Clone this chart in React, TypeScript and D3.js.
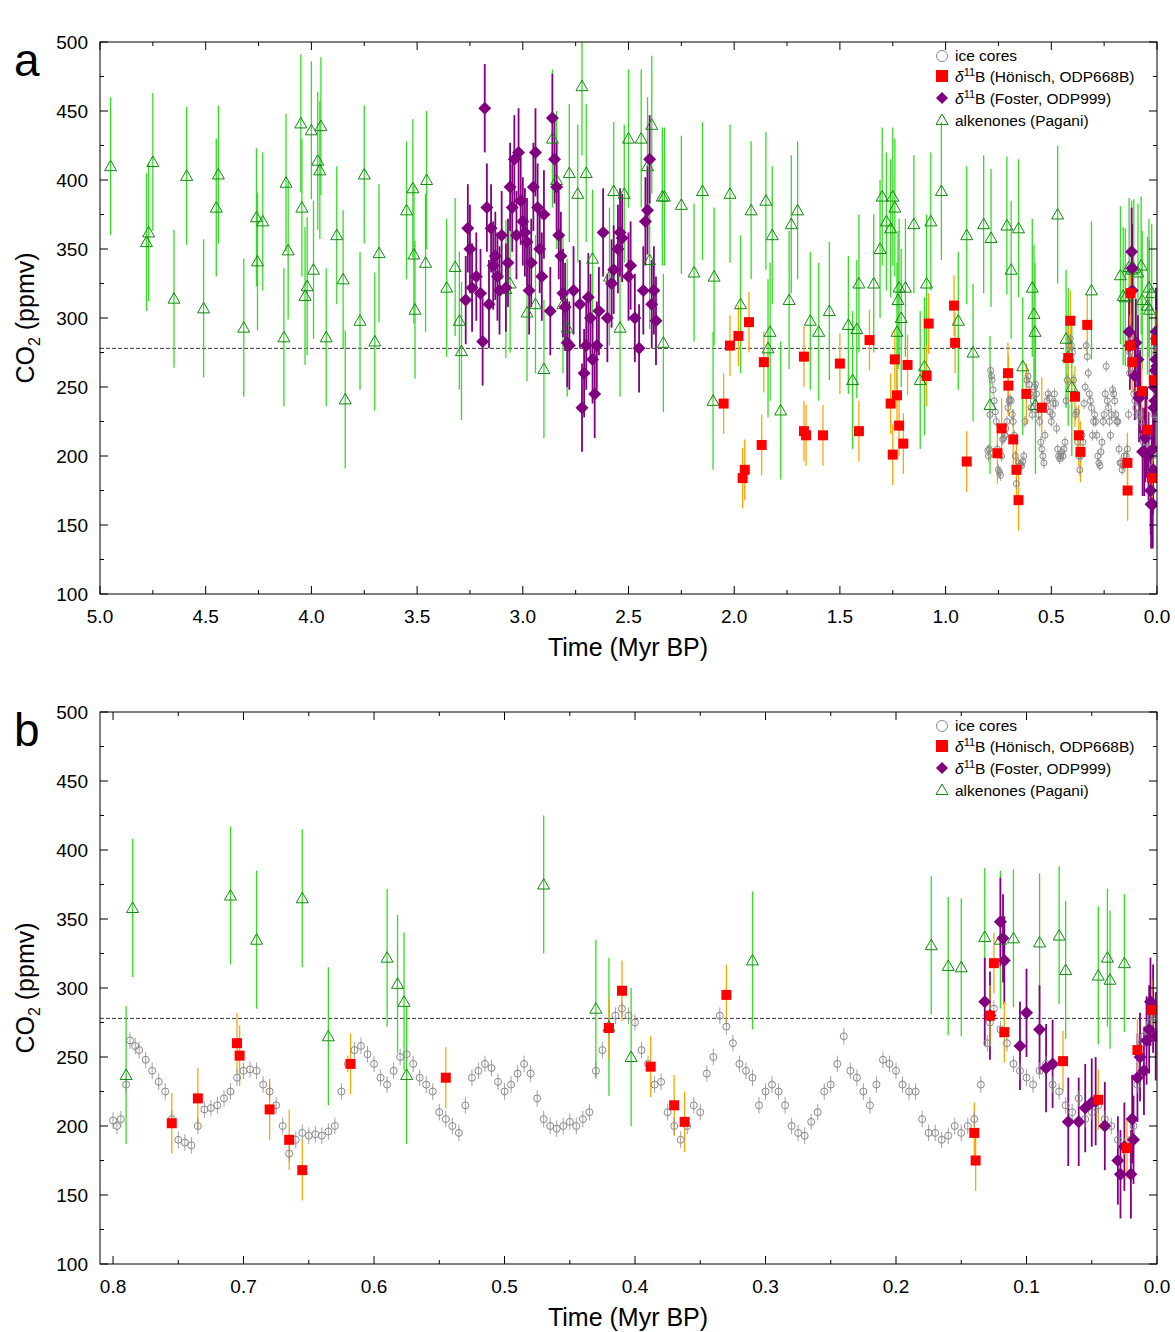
import React from 'react';
import * as d3 from 'd3';

// [time Myr BP, CO2 ppmv]
const iceCores: [number, number][] = [
  [0.8, 204], [0.797, 200], [0.794, 205], [0.79, 230], [0.787, 262], [0.783, 258], [0.78, 255], [0.775, 248], [0.77, 240],
  [0.765, 232], [0.76, 225], [0.755, 205], [0.75, 190], [0.745, 188], [0.74, 186], [0.735, 200], [0.73, 212], [0.725, 213],
  [0.72, 215], [0.715, 220], [0.71, 225], [0.705, 235], [0.7, 240], [0.695, 241], [0.69, 240], [0.685, 230], [0.68, 225],
  [0.675, 215], [0.67, 200], [0.665, 180], [0.66, 190], [0.655, 195], [0.65, 193], [0.645, 194], [0.64, 193], [0.635, 196],
  [0.63, 200], [0.625, 225], [0.62, 245], [0.615, 255], [0.61, 258], [0.605, 252], [0.6, 245], [0.595, 235], [0.59, 230],
  [0.585, 240], [0.58, 250], [0.575, 252], [0.57, 245], [0.565, 235], [0.56, 230], [0.555, 225], [0.55, 210], [0.545, 205],
  [0.54, 200], [0.535, 195], [0.53, 215], [0.525, 235], [0.52, 240], [0.515, 245], [0.51, 242], [0.505, 232], [0.5, 225],
  [0.495, 230], [0.49, 238], [0.485, 245], [0.48, 238], [0.475, 220], [0.47, 205], [0.465, 200], [0.46, 198], [0.455, 200],
  [0.45, 203], [0.445, 200], [0.44, 205], [0.435, 210], [0.43, 240], [0.425, 255], [0.42, 272], [0.415, 280], [0.41, 285],
  [0.405, 280], [0.4, 275], [0.395, 255], [0.39, 245], [0.385, 230], [0.38, 232], [0.375, 210], [0.37, 200], [0.365, 190],
  [0.36, 200], [0.355, 215], [0.35, 210], [0.345, 238], [0.34, 250], [0.335, 280], [0.33, 272], [0.325, 260], [0.32, 245],
  [0.315, 240], [0.31, 235], [0.305, 215], [0.3, 225], [0.295, 230], [0.29, 225], [0.285, 215], [0.28, 200], [0.275, 195],
  [0.27, 193], [0.265, 203], [0.26, 210], [0.255, 225], [0.25, 230], [0.245, 245], [0.24, 265], [0.235, 240], [0.23, 235],
  [0.225, 225], [0.22, 215], [0.215, 230], [0.21, 248], [0.205, 245], [0.2, 240], [0.195, 230], [0.19, 225], [0.185, 225],
  [0.18, 205], [0.175, 195], [0.17, 195], [0.165, 190], [0.16, 193], [0.155, 200], [0.15, 195], [0.145, 200], [0.14, 205],
  [0.135, 230], [0.13, 260], [0.128, 275], [0.125, 285], [0.12, 270], [0.115, 260], [0.11, 245], [0.105, 240], [0.1, 235],
  [0.095, 230], [0.09, 240], [0.085, 245], [0.08, 230], [0.075, 225], [0.07, 215], [0.065, 210], [0.06, 220], [0.055, 205],
  [0.05, 210], [0.045, 215], [0.04, 205], [0.035, 200], [0.03, 190], [0.025, 185], [0.02, 190], [0.018, 200], [0.015, 230],
  [0.012, 260], [0.01, 265], [0.008, 270], [0.005, 275], [0.002, 280],
];

const honisch: [number, number][] = [
  [2.05, 238], [2.02, 280], [1.98, 287], [1.96, 184], [1.95, 190], [1.93, 297], [1.87, 208], [1.86, 268], [1.67, 272],
  [1.67, 218], [1.66, 215], [1.58, 215], [1.5, 267], [1.41, 218], [1.36, 284], [1.26, 238], [1.25, 201], [1.24, 270],
  [1.23, 244], [1.22, 222], [1.2, 209], [1.18, 266], [1.09, 258], [1.08, 296], [0.96, 309], [0.955, 282], [0.9, 196],
  [0.755, 202], [0.735, 220], [0.705, 260], [0.703, 251], [0.68, 212], [0.665, 190], [0.655, 168], [0.618, 245], [0.545, 235],
  [0.42, 271], [0.41, 298], [0.388, 243], [0.37, 215], [0.362, 203], [0.33, 295], [0.14, 195], [0.139, 175], [0.128, 280],
  [0.125, 318], [0.117, 268], [0.072, 247], [0.045, 219], [0.023, 184], [0.015, 255], [0.004, 284],
];

const foster: [number, number][] = [
  [3.27, 313], [3.26, 365], [3.25, 350], [3.24, 322], [3.22, 330], [3.2, 318], [3.19, 283], [3.18, 452], [3.17, 380],
  [3.16, 310], [3.15, 365], [3.14, 338], [3.13, 345], [3.12, 330], [3.11, 320], [3.1, 360], [3.08, 322], [3.07, 340],
  [3.06, 395], [3.05, 380], [3.04, 415], [3.03, 360], [3.02, 420], [3.01, 385], [3.0, 370], [2.99, 362], [2.98, 355],
  [2.97, 320], [2.96, 340], [2.95, 395], [2.94, 420], [2.93, 380], [2.92, 350], [2.91, 330], [2.9, 375], [2.87, 305],
  [2.86, 445], [2.85, 415], [2.84, 395], [2.83, 360], [2.82, 345], [2.81, 318], [2.8, 308], [2.79, 282], [2.78, 280],
  [2.76, 320], [2.73, 310], [2.72, 235], [2.71, 260], [2.7, 280], [2.69, 315], [2.68, 300], [2.67, 270], [2.66, 245],
  [2.65, 280], [2.64, 305], [2.62, 362], [2.6, 300], [2.58, 325], [2.57, 335], [2.55, 350], [2.54, 362], [2.53, 358],
  [2.5, 330], [2.49, 338], [2.47, 300], [2.45, 278], [2.43, 320], [2.42, 370], [2.41, 378], [2.4, 415], [2.39, 310],
  [2.38, 320], [2.37, 298],
  [0.132, 290], [0.128, 280], [0.12, 348], [0.118, 336], [0.117, 320], [0.105, 258], [0.1, 282], [0.09, 270], [0.085, 242],
  [0.08, 245], [0.068, 203], [0.06, 203], [0.055, 213], [0.05, 217], [0.047, 218], [0.04, 200], [0.03, 175], [0.028, 165],
  [0.025, 185], [0.02, 165], [0.019, 205], [0.018, 190], [0.015, 235], [0.013, 250], [0.01, 240], [0.008, 262],
  [0.006, 270], [0.005, 290], [0.003, 285], [0.001, 265],
];

const alkenones: [number, number][] = [
  [4.95, 410], [4.78, 355], [4.77, 362], [4.75, 413], [4.65, 314], [4.59, 403], [4.51, 307], [4.45, 380], [4.44, 404],
  [4.32, 293], [4.26, 373], [4.255, 341], [4.23, 370], [4.13, 286], [4.12, 398], [4.11, 349], [4.05, 441], [4.045, 380],
  [4.03, 316], [4.02, 323], [4.0, 436], [3.99, 335], [3.97, 414], [3.96, 407], [3.955, 439], [3.93, 286], [3.88, 360],
  [3.85, 328], [3.84, 241], [3.77, 298], [3.75, 404], [3.7, 283], [3.68, 347], [3.55, 378], [3.52, 394], [3.515, 346],
  [3.51, 306], [3.46, 340], [3.455, 400], [3.36, 322], [3.32, 337], [3.3, 298], [3.29, 276], [3.08, 321], [3.06, 325],
  [2.98, 304], [2.94, 310], [2.9, 263], [2.86, 430], [2.84, 400], [2.81, 310], [2.79, 293], [2.78, 405], [2.74, 390],
  [2.72, 468], [2.7, 405], [2.67, 343], [2.59, 330], [2.57, 392], [2.54, 293], [2.52, 390], [2.5, 430], [2.44, 430],
  [2.41, 410], [2.4, 342], [2.39, 440], [2.34, 388], [2.335, 282], [2.33, 388], [2.25, 382], [2.19, 333], [2.15, 392],
  [2.1, 240], [2.095, 330], [2.02, 390], [1.97, 310], [1.92, 378], [1.85, 385], [1.84, 278], [1.83, 290], [1.82, 360],
  [1.78, 233], [1.74, 313], [1.73, 368], [1.7, 378], [1.64, 298], [1.6, 290], [1.55, 305], [1.46, 295], [1.44, 255],
  [1.42, 292], [1.41, 325], [1.34, 325], [1.31, 350], [1.3, 388], [1.28, 370], [1.26, 365], [1.25, 388], [1.24, 380],
  [1.23, 290], [1.225, 313], [1.22, 322], [1.21, 300], [1.19, 322], [1.15, 368], [1.12, 255], [1.1, 265], [1.09, 325],
  [1.07, 370], [1.02, 392], [0.94, 298], [0.9, 360], [0.87, 275], [0.82, 368],
  [0.79, 237], [0.785, 358], [0.71, 367], [0.69, 335], [0.655, 365], [0.635, 265], [0.59, 322], [0.582, 303], [0.577, 290],
  [0.575, 237], [0.47, 375], [0.43, 285], [0.42, 272], [0.403, 250], [0.31, 320], [0.173, 331], [0.16, 316], [0.15, 315],
  [0.132, 337], [0.12, 335], [0.11, 336], [0.09, 333], [0.075, 338], [0.07, 313], [0.045, 309], [0.038, 322], [0.036, 306],
  [0.025, 318],
];

const preindustrial = 278;
const yTicks = [100, 150, 200, 250, 300, 350, 400, 450, 500];
const xTicksA = [5.0, 4.5, 4.0, 3.5, 3.0, 2.5, 2.0, 1.5, 1.0, 0.5, 0.0];
const xTicksB = [0.8, 0.7, 0.6, 0.5, 0.4, 0.3, 0.2, 0.1, 0.0];

const FONT = '"Liberation Sans", Arial, sans-serif';
const GREEN = '#33dd22';
const RED = '#ff0000';
const PURPLE = '#800080';
const ORANGE = '#ffa500';
const GRAY = '#888';

interface PanelProps {
  top: number;
  letter: string;
  domain: [number, number];
  xTicks: number[];
  xFmt: (d: number) => string;
  ice: { r: number; err: number };
}

const Panel: React.FC<PanelProps> = ({ top, letter, domain, xTicks, xFmt, ice }) => {
  const left = 100, right = 1157, h = 552;
  const x = d3.scaleLinear().domain(domain).range([left, right]);
  const y = d3.scaleLinear().domain([100, 500]).range([top + h, top]);
  const inside = (d: [number, number]) => d[0] <= domain[0];
  const clipId = `clip-${letter}`;
  const minorY = d3.range(100, 501, 25);
  const step = xTicks[0] - xTicks[1];
  const minorX = d3.range(0, domain[0] + 1e-9, step / 2);

  const bar = (d: [number, number], err: number, color: string, key: string, w = 1.3) => (
    <line key={key} x1={x(d[0])} x2={x(d[0])} y1={y(d[1] - err)} y2={y(d[1] + err)} stroke={color} strokeWidth={w} />
  );
  const tri = (cx: number, cy: number, s = 6) => `M${cx},${cy - s}L${cx + s},${cy + s * 0.75}L${cx - s},${cy + s * 0.75}Z`;
  const dia = (cx: number, cy: number, s = 6.5) => `M${cx},${cy - s}L${cx + s},${cy}L${cx},${cy + s}L${cx - s},${cy}Z`;

  const lx = 942, ly = top + 14;
  return (
    <g fontFamily={FONT}>
      <defs>
        <clipPath id={clipId}><rect x={left} y={top} width={right - left} height={h} /></clipPath>
      </defs>
      <text x={14} y={top + 34} fontSize={46}>{letter}</text>
      <g clipPath={`url(#${clipId})`}>
        <line x1={left} x2={right} y1={y(preindustrial)} y2={y(preindustrial)} stroke="#000" strokeDasharray="4,2" strokeWidth={0.8} />
        {alkenones.filter(inside).map((d, i) => bar(d, 50, GREEN, `ag${i}`))}
        {foster.filter(inside).map((d, i) => bar(d, 32, PURPLE, `fg${i}`, 1.8))}
        {honisch.filter(inside).map((d, i) => bar(d, 22, ORANGE, `hg${i}`))}
        {iceCores.filter(inside).map((d, i) => bar(d, ice.err, GRAY, `ig${i}`, 0.8))}
        {iceCores.filter(inside).map((d, i) => (
          <circle key={`i${i}`} cx={x(d[0])} cy={y(d[1])} r={ice.r} fill="none" stroke={GRAY} strokeWidth={1} />
        ))}
        {alkenones.filter(inside).map((d, i) => (
          <path key={`a${i}`} d={tri(x(d[0]), y(d[1]))} fill="none" stroke="#118811" strokeWidth={1} />
        ))}
        {foster.filter(inside).map((d, i) => (
          <path key={`f${i}`} d={dia(x(d[0]), y(d[1]))} fill={PURPLE} />
        ))}
        {honisch.filter(inside).map((d, i) => (
          <rect key={`h${i}`} x={x(d[0]) - 5} y={y(d[1]) - 5} width={10} height={10} fill={RED} />
        ))}
      </g>
      <rect x={left} y={top} width={right - left} height={h} fill="none" stroke="#000" strokeWidth={1} />
      {minorY.map(v => (
        <g key={`my${v}`}>
          <line x1={left} x2={left + (v % 50 === 0 ? 8 : 4)} y1={y(v)} y2={y(v)} stroke="#000" />
          <line x1={right} x2={right - (v % 50 === 0 ? 8 : 4)} y1={y(v)} y2={y(v)} stroke="#000" />
        </g>
      ))}
      {minorX.map((v, i) => (
        <g key={`mx${i}`}>
          <line x1={x(v)} x2={x(v)} y1={top + h} y2={top + h - (i % 2 === 0 ? 8 : 4)} stroke="#000" />
          <line x1={x(v)} x2={x(v)} y1={top} y2={top + (i % 2 === 0 ? 8 : 4)} stroke="#000" />
        </g>
      ))}
      {yTicks.map(v => (
        <text key={`yt${v}`} x={left - 12} y={y(v) + 7} fontSize={19} textAnchor="end">{v}</text>
      ))}
      {xTicks.map(v => (
        <text key={`xt${v}`} x={x(v)} y={top + h + 29} fontSize={19} textAnchor="middle">{xFmt(v)}</text>
      ))}
      <text x={628} y={top + h + 62} fontSize={25} textAnchor="middle">Time (Myr BP)</text>
      <text transform={`translate(34,${top + h / 2}) rotate(-90)`} fontSize={25} textAnchor="middle">
        CO<tspan fontSize={16} dy={6}>2</tspan><tspan dy={-6}> (ppmv)</tspan>
      </text>
      <g fontSize={15.5}>
        <circle cx={lx} cy={ly} r={5.5} fill="none" stroke={GRAY} />
        <text x={lx + 13} y={ly + 5}>ice cores</text>
        <rect x={lx - 6} y={ly + 14} width={12} height={12} fill={RED} />
        <text x={lx + 13} y={ly + 26}><tspan fontStyle="italic">δ</tspan><tspan fontSize={11} dy={-6}>11</tspan><tspan dy={6}>B (Hönisch, ODP668B)</tspan></text>
        <path d={dia(lx, ly + 42, 6)} fill={PURPLE} />
        <text x={lx + 13} y={ly + 48}><tspan fontStyle="italic">δ</tspan><tspan fontSize={11} dy={-6}>11</tspan><tspan dy={6}>B (Foster, ODP999)</tspan></text>
        <path d={tri(lx, ly + 64)} fill="none" stroke="#118811" />
        <text x={lx + 13} y={ly + 70}>alkenones (Pagani)</text>
      </g>
    </g>
  );
};

const App: React.FC = () => (
  <svg width={1175} height={1332} style={{ position: 'absolute', left: 0, top: 0, background: '#fff' }}>
    <Panel top={42} letter="a" domain={[5, 0]} xTicks={xTicksA} xFmt={d3.format('.1f')} ice={{ r: 3, err: 4 }} />
    <Panel top={712} letter="b" domain={[0.81, 0]} xTicks={xTicksB} xFmt={d => (d === 0 ? '0.0' : d3.format('.1f')(d))} ice={{ r: 3.5, err: 6 }} />
  </svg>
);

export default App;
